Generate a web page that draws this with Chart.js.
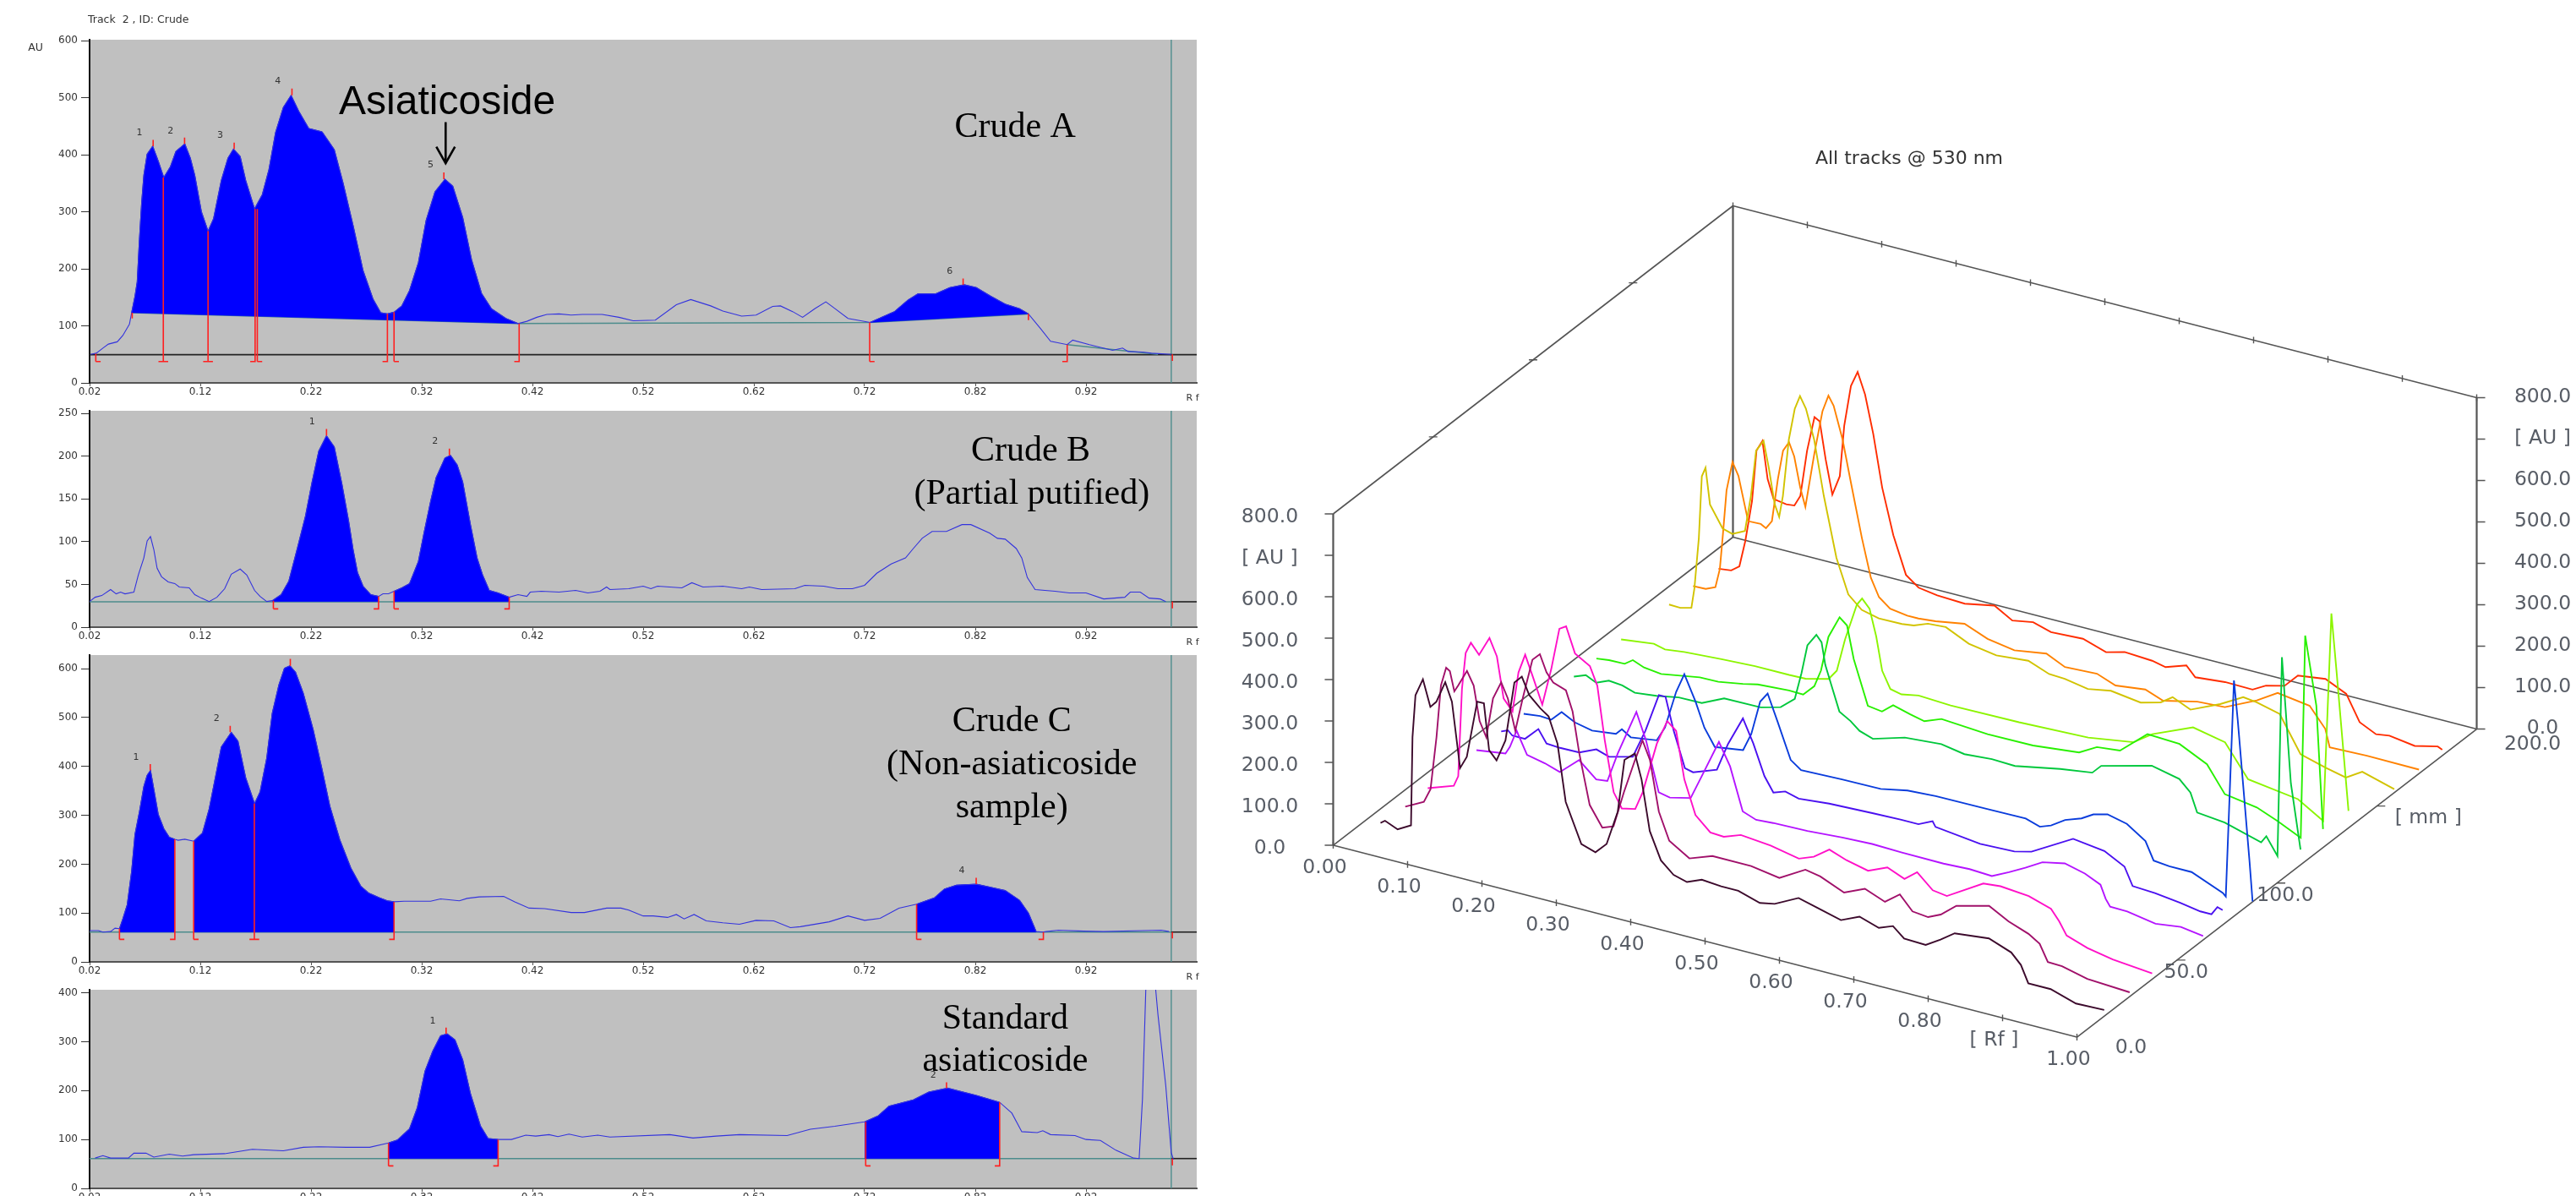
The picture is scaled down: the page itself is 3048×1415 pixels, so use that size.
<!DOCTYPE html>
<html>
<head>
<meta charset="utf-8">
<title>HPTLC densitograms</title>
<script src="https://cdn.jsdelivr.net/npm/chart.js@4/dist/chart.umd.min.js"></script>
<style>
html, body { margin: 0; background: #fff; width: 3048px; height: 1415px; overflow: hidden; }
canvas { position: absolute; }
</style>
</head>
<body>
<canvas id="panelA"></canvas>
<canvas id="panelB"></canvas>
<canvas id="panelC"></canvas>
<canvas id="panelD"></canvas>
<canvas id="tracks3d"></canvas>
<script>
// ---- left column: single track densitograms, [Rf, AU]
const rfTicks = [0.02, 0.12, 0.22, 0.32, 0.42, 0.52, 0.62, 0.72, 0.82, 0.92];
const auTicksA = [0, 100, 200, 300, 400, 500, 600];
const auTicksB = [0, 50, 100, 150, 200, 250];
const auTicksC = [0, 100, 200, 300, 400, 500, 600];
const auTicksD = [0, 100, 200, 300, 400];

const curveA = [[.021,50],[.026,52],[.032,61],[.037,68],[.045,72],[.050,83],[.056,103],[.058,123],[.061,152],[.063,177],[.065,251],[.067,315],[.069,364],[.072,401],[.077,415],[.082,389],[.087,360],[.093,379],[.098,406],[.106,419],[.111,394],[.115,364],[.121,300],[.127,266],[.132,288],[.139,355],[.145,394],[.150,410],[.156,397],[.161,355],[.169,305],[.176,330],[.182,374],[.188,439],[.195,483],[.202,504],[.209,476],[.218,446],[.230,440],[.241,409],[.249,350],[.258,276],[.267,197],[.276,147],[.283,123],[.289,121],[.295,124],[.302,135],[.309,162],[.317,211],[.324,285],[.332,335],[.341,357],[.348,345],[.357,290],[.365,216],[.374,157],[.383,130],[.396,113],[.407,104],[.415,108],[.424,115],[.433,120],[.444,121],[.455,119],[.465,120],[.483,120],[.498,115],[.511,109],[.531,110],[.550,137],[.563,146],[.581,135],[.592,126],[.609,117],[.622,119],[.637,134],[.644,135],[.655,125],[.664,115],[.675,130],[.685,142],[.692,132],[.705,113],[.725,106],[.747,125],[.759,145],[.768,156],[.784,156],[.797,167],[.810,172],[.821,167],[.834,152],[.847,138],[.860,130],[.868,121],[.879,95],[.888,73],[.903,67],[.908,75],[.923,67],[.944,57],[.953,61],[.958,55],[.971,54],[.979,52],[.997,50]];
const curveB = [[.020,30],[.025,35],[.031,37],[.039,44],[.044,39],[.048,41],[.052,39],[.060,41],[.064,61],[.069,81],[.072,101],[.075,106],[.078,91],[.081,69],[.085,59],[.091,53],[.097,51],[.101,47],[.110,46],[.115,38],[.121,34],[.128,30],[.135,35],[.142,45],[.148,62],[.156,68],[.162,61],[.169,43],[.174,36],[.180,30],[.185,31],[.193,38],[.200,54],[.208,94],[.215,130],[.221,170],[.227,206],[.234,224],[.241,211],[.248,167],[.254,124],[.258,91],[.262,64],[.267,48],[.274,38],[.281,36],[.285,39],[.290,39],[.295,42],[.302,46],[.309,51],[.317,77],[.322,110],[.328,147],[.333,175],[.341,198],[.346,201],[.352,190],[.357,170],[.364,120],[.370,81],[.375,61],[.381,43],[.389,40],[.399,35],[.407,38],[.415,36],[.418,41],[.428,42],[.444,41],[.459,43],[.470,40],[.481,42],[.487,47],[.490,44],[.507,45],[.520,48],[.527,45],[.533,48],[.555,46],[.564,52],[.574,47],[.592,48],[.609,45],[.616,47],[.627,44],[.657,45],[.666,49],[.683,48],[.696,45],[.709,45],[.720,49],[.731,63],[.744,74],[.757,81],[.764,92],[.772,104],[.781,112],[.794,112],[.808,120],[.816,120],[.833,110],[.840,104],[.847,103],[.857,92],[.862,81],[.867,58],[.874,44],[.892,42],[.905,40],[.920,40],[.936,33],[.955,35],[.960,41],[.969,41],[.977,34],[.987,33],[.992,30]];
const curveC = [[.020,64],[.028,64],[.032,61],[.039,62],[.043,69],[.047,68],[.050,88],[.054,117],[.058,186],[.061,261],[.065,307],[.069,359],[.072,382],[.075,392],[.078,354],[.082,302],[.087,273],[.092,255],[.097,251],[.100,249],[.106,251],[.114,247],[.122,264],[.128,313],[.134,382],[.139,440],[.148,470],[.154,452],[.161,377],[.169,324],[.174,348],[.180,417],[.185,509],[.191,567],[.196,601],[.201,606],[.206,593],[.213,550],[.222,475],[.230,394],[.237,319],[.246,250],[.256,192],[.265,155],[.272,141],[.282,131],[.289,125],[.295,123],[.304,124],[.328,124],[.337,129],[.354,125],[.361,130],[.372,133],[.394,134],[.404,123],[.417,110],[.431,109],[.455,101],[.467,101],[.487,110],[.500,110],[.507,106],[.520,94],[.529,94],[.542,91],[.550,97],[.557,88],[.566,97],[.577,84],[.592,80],[.607,77],[.622,85],[.638,84],[.653,70],[.662,72],[.688,82],[.705,94],[.720,85],[.734,89],[.751,110],[.767,118],[.783,131],[.792,149],[.803,157],[.821,159],[.833,153],[.847,146],[.860,126],[.868,100],[.875,62],[.881,61],[.884,62],[.895,65],[.918,63],[.936,62],[.971,64],[.988,65],[.995,62]];
const curveD = [[.025,62],[.032,67],[.039,62],[.046,62],[.055,62],[.060,72],[.071,72],[.078,64],[.092,70],[.104,66],[.114,69],[.142,71],[.167,80],[.195,77],[.213,84],[.227,85],[.252,84],[.273,84],[.290,93],[.298,99],[.309,122],[.316,165],[.323,240],[.330,281],[.337,312],[.343,316],[.350,304],[.357,263],[.364,194],[.373,128],[.380,102],[.389,100],[.401,100],[.414,109],[.423,107],[.435,110],[.443,106],[.453,111],[.465,105],[.479,109],[.490,105],[.544,110],[.565,103],[.586,107],[.607,110],[.650,108],[.671,121],[.693,127],[.720,136],[.732,148],[.742,168],[.764,181],[.778,197],[.795,205],[.821,190],[.842,176],[.853,154],[.862,116],[.876,114],[.881,118],[.888,110],[.910,108],[.920,100],[.933,98],[.947,78],[.963,62],[.968,61],[.971,183],[.974,406],[.975,430],[.982,430],[.985,355],[.992,211],[.997,73],[.999,59]];

// filled peak windows: [rf from, rf to, baseline at from, baseline at to]
const fillsA = [[.058,.407,123,104],[.725,.868,106,121]];
const fillsB = [[.185,.281,30,30],[.295,.399,30,30]];
const fillsC = [[.047,.097,61,61],[.114,.295,61,61],[.767,.875,61,61]];
const fillsD = [[.290,.389,61,61],[.720,.842,61,61]];

// peak start/end marks: [rf, top AU, low AU, foot (-1 left, 1 right, 2 both, 0 none)], apex marks have foot 0
const marksA = [[.0256,51,37.5,1],[.0585,123,113,0],[.0866,360,37.5,2],[.127,266,37.5,2],[.1695,305,37.5,-1],[.1715,305,37.5,1],[.289,121,37.5,-1],[.295,124,37.5,1],[.408,104,37.5,-1],[.7246,106,37.5,1],[.868,121,110,0],[.903,67,37.5,-1],[.998,50,38.5,0],[.0774,426,415,0],[.1058,430,419,0],[.1506,421,410,0],[.2028,516,504,0],[.340,369,357,0],[.809,183,172,0]];
const marksB = [[.186,31,21.4,1],[.281,36,21.4,-1],[.295,42,21.4,1],[.399,35,21.4,-1],[.998,30,22,0],[.234,232,224,0],[.345,209,201,0]];
const marksC = [[.047,68,46,1],[.097,251,46,-1],[.114,247,46,1],[.1688,324,46,2],[.295,123,46,-1],[.767,118,46,1],[.8815,61,46,-1],[.998,61,48,0],[.0748,405,392,0],[.147,483,470,0],[.2013,620,606,0],[.8208,172,159,0]];
const marksD = [[.290,93,46,1],[.389,100,46,-1],[.721,136,46,1],[.842,176,46,-1],[.998,61,47,0],[.342,329,316,0],[.794,217,205,0]];

// peak numbers: [text, rf, AU]
const peakNumbersA = [["1",.065,438],["2",.093,442],["3",.138,434],["4",.190,528],["5",.328,382],["6",.797,195]];
const peakNumbersB = [["1",.221,240],["2",.332,217]];
const peakNumbersC = [["1",.062,419],["2",.1347,498],["4",.8078,186]];
const peakNumbersD = [["1",.330,342],["2",.782,231]];

// big captions: [text, rf, AU of baseline, font]
const serif = '42px "Liberation Serif"';
const notesA = [["Asiaticoside",.343,471,'48px "Liberation Sans"'],["Crude A",.856,431,serif]];
const notesB = [["Crude B",.870,195,serif],["(Partial putified)",.871,144,serif]];
const notesC = [["Crude C",.853,472,serif],["(Non-asiaticoside",.853,384,serif],["sample)",.853,296,serif]];
const notesD = [["Standard",.847,327,serif],["asiaticoside",.847,240,serif]];

const arrowShaft = [[.3416,457],[.3416,385]];
const arrowHead = [[.3332,414],[.3416,385],[.350,414]];

// ---- right side: 3D view, one [Rf, AU] list per track
const trackMm = [14, 26, 38, 62, 74, 86, 110, 122, 134, 158, 170, 182];
const trackColors = ["#3c0a2c","#a0106a","#ff10c8","#b414ff","#4a10f0","#0a3cdc","#00c83c","#28f000","#8cf500","#d2c300","#ff8200","#ff2d00"];
const track1 = [[.026,14],[.032,22],[.049,9],[.067,27],[.069,241],[.073,344],[.083,387],[.093,325],[.101,341],[.113,394],[.122,351],[.133,196],[.142,227],[.156,367],[.165,367],[.172,257],[.182,237],[.194,291],[.206,436],[.216,455],[.226,415],[.241,390],[.252,376],[.264,315],[.275,180],[.296,88],[.315,77],[.330,104],[.345,189],[.354,318],[.368,340],[.377,281],[.388,162],[.403,98],[.420,71],[.438,62],[.458,77],[.484,73],[.507,73],[.536,57],[.556,64],[.588,93],[.613,81],[.645,66],[.670,86],[.696,71],[.715,84],[.730,61],[.759,59],[.779,81],[.798,105],[.844,114],[.874,94],[.887,70],[.897,30],[.927,30],[.961,11],[.999,13]];
const track2 = [[.027,9],[.052,32],[.061,67],[.069,196],[.075,324],[.082,370],[.087,364],[.093,318],[.098,334],[.110,375],[.119,344],[.127,262],[.136,227],[.145,325],[.156,369],[.165,334],[.175,261],[.185,344],[.198,443],[.208,461],[.217,421],[.226,401],[.243,390],[.252,343],[.261,246],[.275,128],[.292,81],[.307,91],[.321,180],[.336,265],[.346,317],[.356,274],[.368,155],[.382,91],[.409,61],[.440,81],[.492,81],[.530,70],[.565,106],[.585,99],[.617,75],[.645,97],[.672,78],[.692,105],[.709,72],[.730,68],[.747,82],[.768,113],[.812,133],[.838,108],[.865,90],[.880,73],[.891,34],[.910,33],[.944,18],[1.001,12]];
const track3 = [[.025,8],[.060,30],[.066,56],[.071,269],[.076,358],[.083,386],[.094,362],[.108,409],[.118,369],[.127,272],[.139,246],[.147,344],[.156,391],[.166,344],[.179,281],[.191,372],[.202,475],[.211,485],[.223,425],[.243,404],[.253,361],[.263,234],[.275,114],[.286,80],[.304,87],[.314,132],[.333,258],[.347,319],[.359,301],[.370,189],[.385,110],[.405,77],[.423,75],[.446,90],[.486,83],[.524,69],[.544,83],[.565,110],[.588,95],[.617,83],[.643,103],[.666,86],[.683,110],[.704,76],[.723,71],[.772,124],[.795,128],[.833,122],[.863,105],[.874,80],[.884,50],[.912,33],[.946,21],[.999,12]];
const track4 = [[.026,11],[.065,21],[.071,40],[.080,83],[.094,31],[.118,22],[.138,10],[.164,51],[.187,15],[.202,18],[.216,91],[.241,203],[.254,140],[.271,23],[.286,17],[.314,29],[.329,89],[.352,182],[.367,130],[.384,29],[.402,17],[.425,20],[.471,22],[.518,28],[.558,31],[.598,29],[.654,28],[.689,31],[.719,28],[.742,48],[.764,69],[.787,93],[.817,104],[.844,92],[.865,75],[.872,44],[.878,28],[.901,27],[.939,15],[.973,23],[1.003,15]];
const track5 = [[.027,12],[.036,19],[.042,9],[.059,9],[.077,41],[.088,11],[.106,9],[.132,10],[.155,28],[.172,18],[.204,33],[.221,104],[.239,198],[.248,198],[.259,121],[.274,38],[.285,33],[.317,54],[.332,123],[.352,194],[.366,140],[.381,68],[.393,34],[.409,44],[.427,35],[.468,42],[.526,46],[.565,48],[.588,48],[.607,64],[.611,52],[.671,39],[.717,42],[.740,52],[.796,109],[.838,99],[.865,74],[.876,32],[.906,29],[.940,21],[.967,13],[.982,13],[.990,34],[.997,30]];
const track6 = [[.025,9],[.047,14],[.062,12],[.076,37],[.094,20],[.117,11],[.149,18],[.157,33],[.169,19],[.204,28],[.215,64],[.230,157],[.241,205],[.256,146],[.268,88],[.282,48],[.320,58],[.331,102],[.343,186],[.353,210],[.366,150],[.384,64],[.398,46],[.453,49],[.505,50],[.541,63],[.579,67],[.647,68],[.700,69],[.719,58],[.734,68],[.753,90],[.775,104],[.791,121],[.810,130],[.836,119],[.861,89],[.872,47],[.893,43],[.923,43],[.965,12],[.969,5],[.980,532],[.985,440],[1.001,103],[1.005,10]];
const track7 = [[.028,11],[.044,22],[.058,10],[.075,23],[.093,20],[.110,10],[.139,16],[.169,26],[.200,27],[.230,52],[.279,53],[.306,66],[.325,95],[.334,161],[.342,232],[.354,263],[.361,248],[.366,196],[.374,152],[.385,92],[.400,76],[.412,58],[.430,47],[.473,70],[.522,77],[.553,67],[.590,72],[.621,70],[.682,91],[.725,102],[.737,124],[.805,156],[.842,141],[.857,115],[.866,71],[.903,64],[.952,39],[.959,57],[.974,16],[.980,499],[.992,200],[1.005,46]];
const track8 = [[.026,9],[.043,13],[.064,14],[.075,28],[.090,17],[.113,12],[.165,28],[.190,29],[.223,39],[.243,47],[.285,52],[.304,51],[.319,78],[.328,120],[.338,206],[.353,260],[.363,245],[.372,168],[.391,64],[.410,59],[.425,81],[.448,70],[.467,62],[.490,78],[.552,70],[.613,71],[.675,83],[.699,107],[.730,113],[.767,170],[.810,166],[.847,134],[.871,73],[.914,61],[.942,41],[.973,15],[.979,506],[.994,344],[1.003,50]];
const track9 = [[.027,11],[.071,21],[.086,14],[.112,20],[.162,26],[.207,30],[.253,30],[.275,31],[.306,45],[.317,70],[.328,150],[.344,242],[.351,260],[.361,240],[.370,177],[.378,98],[.389,59],[.404,53],[.427,61],[.470,57],[.562,59],[.655,65],[.716,82],[.741,113],[.796,155],[.839,139],[.870,64],[.937,47],[.971,10],[.982,516],[.989,378],[1.005,50]];
const track10 = [[.027,6],[.042,5],[.057,12],[.061,60],[.067,185],[.071,336],[.076,359],[.082,273],[.099,223],[.112,216],[.129,231],[.137,319],[.144,432],[.154,460],[.161,399],[.169,314],[.175,286],[.180,339],[.188,479],[.196,557],[.203,591],[.211,564],[.222,495],[.235,365],[.252,223],[.268,142],[.286,113],[.309,103],[.340,104],[.356,108],[.375,121],[.399,124],[.430,98],[.467,87],[.510,94],[.538,75],[.559,73],[.590,63],[.621,73],[.661,63],[.688,76],[.704,96],[.728,77],[.768,109],[.799,140],[.817,136],[.848,122],[.876,38],[.910,21],[.937,10],[.959,34],[1.002,12]];
const track11 = [[.027,6],[.044,7],[.057,17],[.063,64],[.067,147],[.072,258],[.080,330],[.088,300],[.101,197],[.118,198],[.125,191],[.133,212],[.141,317],[.148,389],[.156,413],[.163,382],[.171,311],[.178,267],[.190,401],[.201,509],[.209,550],[.216,529],[.228,453],[.239,356],[.254,227],[.266,137],[.277,95],[.292,74],[.315,68],[.330,68],[.353,72],[.392,84],[.423,62],[.459,51],[.502,63],[.527,42],[.570,46],[.595,29],[.635,38],[.659,22],[.705,41],[.742,45],[.785,81],[.813,112],[.856,101],[.877,55],[.883,13],[.933,16],[1.003,15]];
const track12 = [[.029,4],[.046,8],[.057,23],[.065,88],[.074,188],[.080,313],[.088,340],[.095,251],[.103,207],[.120,202],[.131,204],[.139,231],[.148,344],[.158,430],[.165,423],[.173,335],[.182,254],[.192,303],[.198,428],[.207,528],[.216,566],[.226,516],[.237,426],[.249,302],[.264,194],[.281,106],[.298,83],[.323,76],[.360,73],[.400,87],[.424,62],[.452,71],[.476,58],[.519,62],[.550,44],[.575,56],[.612,52],[.630,45],[.658,62],[.670,39],[.710,46],[.747,45],[.765,63],[.790,74],[.808,107],[.845,116],[.873,93],[.891,33],[.913,14],[.931,19],[.965,10],[.996,23],[1.002,18]];
const allTracks = [track1, track2, track3, track4, track5, track6, track7, track8, track9, track10, track11, track12];

const au3dValues = [0, 100, 200, 300, 400, 500, 600, 700, 800];
const au3dLabels = ["0.0","100.0","200.0","300.0","400.0","500.0","600.0","[ AU ]","800.0"];
const rf3dValues = [0, .1, .2, .3, .4, .5, .6, .7, .8, .9, 1];
const rf3dLabels = ["0.00","0.10","0.20","0.30","0.40","0.50","0.60","0.70","0.80","[ Rf ]","1.00"];
const mmValues = [0, 50, 100, 150, 200];
const mmLabels = ["0.0","50.0","100.0","[ mm ]","200.0"];
const mmLabelDx = [64, 11, 10, 61, 66];
const mmLabelDy = [13, 15, 15, 14, 18];

const inkBlue = "#3333dd";
const fillBlue = "#0000ff";
const teal = "#4c8c8c";
const markRed = "#ff2020";

function toPoints(list) {
    return list.map(p => ({ x: p[0], y: p[1] }));
}

function markPoints(marks) {
    const footW = 0.0044;
    const pts = [];
    marks.forEach(([rf, top, low, foot]) => {
        pts.push({ x: rf, y: top }, { x: rf, y: low });
        if (foot === -1 || foot === 2) pts.push({ x: rf - footW, y: low });
        pts.push({ x: null, y: null });
        if (foot === 1 || foot === 2) {
            pts.push({ x: rf, y: low }, { x: rf + footW, y: low }, { x: null, y: null });
        }
    });
    return pts;
}

function lineSet(points, color, width) {
    return { data: points, borderColor: color, borderWidth: width, pointRadius: 0, tension: 0, fill: false };
}

function panelChart(id, cfg) {
    const canvas = document.getElementById(id);
    const pad = 30;
    canvas.width = 1460;
    canvas.height = cfg.bottom - cfg.top + pad * 2;
    canvas.style.left = "0px";
    canvas.style.top = (cfg.top - pad) + "px";

    const datasets = [
        lineSet(markPoints(cfg.marks), markRed, 1.6),
        lineSet(toPoints(cfg.curve), inkBlue, 1.1)
    ];
    if (cfg.arrow) {
        datasets.push(lineSet(toPoints(arrowShaft), "#000", 2.6));
        datasets.push(lineSet(toPoints(arrowHead), "#000", 2.6));
    }
    cfg.fills.forEach(([from, to, base0, base1]) => {
        const part = cfg.curve.filter(p => p[0] >= from && p[0] <= to);
        datasets.push({
            data: toPoints(part), borderColor: fillBlue, borderWidth: 1, pointRadius: 0, tension: 0,
            backgroundColor: fillBlue, fill: "+1"
        });
        datasets.push(lineSet(toPoints([[from, base0], [to, base1]]), fillBlue, 0.5));
    });
    cfg.baselines.forEach(b => datasets.push(lineSet(toPoints(b), teal, 1.6)));
    datasets.push(lineSet(toPoints(cfg.black), "#222", 1.6));
    datasets.push(lineSet(toPoints([[.997, 0], [.997, cfg.max]]), teal, 1.4));

    const panelPlugin = {
        id: "panelDecor",
        beforeDraw(chart) {
            const a = chart.chartArea, c = chart.ctx;
            c.save();
            c.fillStyle = "#c0c0c0";
            c.fillRect(a.left, a.top, a.width, a.height);
            c.restore();
        },
        afterDraw(chart) {
            const c = chart.ctx, sx = chart.scales.x, sy = chart.scales.y;
            c.save();
            c.textAlign = "center";
            c.textBaseline = "middle";
            c.fillStyle = "#333";
            c.font = '11px "DejaVu Sans"';
            cfg.peaks.forEach(([t, rf, au]) => c.fillText(t, sx.getPixelForValue(rf), sy.getPixelForValue(au)));
            c.textBaseline = "alphabetic";
            c.fillStyle = "#000";
            cfg.notes.forEach(([t, rf, au, font]) => {
                c.font = font;
                c.fillText(t, sx.getPixelForValue(rf), sy.getPixelForValue(au));
            });
            c.fillStyle = "#333";
            c.font = '11px "DejaVu Sans"';
            c.fillText("R f", 1411, chart.chartArea.bottom + 21);
            if (cfg.track) {
                c.textAlign = "left";
                c.font = '12.5px "DejaVu Sans"';
                c.fillText("Track  2 , ID: Crude", 104, 10);
                c.textAlign = "center";
                c.fillText("AU", 42, 43);
            }
            c.restore();
        }
    };

    return new Chart(canvas, {
        type: "line",
        data: { datasets },
        plugins: [panelPlugin],
        options: {
            responsive: false,
            animation: false,
            events: [],
            layout: { padding: { top: pad, right: 44, bottom: 0, left: 0 } },
            plugins: { legend: { display: false }, tooltip: { enabled: false } },
            scales: {
                x: {
                    type: "linear", min: 0.02, max: 1.02,
                    afterBuildTicks: s => { s.ticks = rfTicks.map(v => ({ value: v })); },
                    afterFit: s => { s.height = pad; s.paddingLeft = 0; s.paddingRight = 0; s.paddingTop = 0; s.paddingBottom = 0; },
                    border: { color: "#555", width: 2 },
                    grid: { drawOnChartArea: false, drawTicks: true, tickLength: 4, tickColor: "#555" },
                    ticks: {
                        autoSkip: false, maxRotation: 0, padding: 0, color: "#333", font: { family: "DejaVu Sans", size: 12 },
                        callback: v => v.toFixed(2)
                    }
                },
                y: {
                    type: "linear", min: 0, max: cfg.max,
                    afterBuildTicks: s => { s.ticks = cfg.ticks.map(v => ({ value: v })); },
                    afterFit: s => { s.width = 106; s.paddingLeft = 0; s.paddingRight = 0; s.paddingTop = 0; s.paddingBottom = 0; },
                    border: { color: "#111", width: 2 },
                    grid: { drawOnChartArea: false, drawTicks: true, tickLength: 10, tickColor: "#333" },
                    ticks: {
                        padding: 4, color: "#333", font: { family: "DejaVu Sans", size: 12 },
                        callback: v => String(v)
                    }
                }
            }
        }
    });
}

panelChart("panelA", {
    top: 47, bottom: 453, max: 601.5, ticks: auTicksA, curve: curveA, fills: fillsA, marks: marksA,
    peaks: peakNumbersA, notes: notesA, arrow: true, track: true,
    baselines: [[[.058,123],[.407,104],[.725,106],[.868,121]], [[.903,67],[.985,50]]],
    black: [[.02,49.4],[1.02,49.4]]
});
panelChart("panelB", {
    top: 486, bottom: 742, max: 253.2, ticks: auTicksB, curve: curveB, fills: fillsB, marks: marksB,
    peaks: peakNumbersB, notes: notesB,
    baselines: [[[.02,29.7],[.997,29.7]]],
    black: [[.997,29.7],[1.02,29.7]]
});
panelChart("panelC", {
    top: 775, bottom: 1138, max: 628, ticks: auTicksC, curve: curveC, fills: fillsC, marks: marksC,
    peaks: peakNumbersC, notes: notesC,
    baselines: [[[.02,61],[.997,61]]],
    black: [[.997,61],[1.02,61]]
});
panelChart("panelD", {
    top: 1171, bottom: 1406, max: 406.2, ticks: auTicksD, curve: curveD, fills: fillsD, marks: marksD,
    peaks: peakNumbersD, notes: notesD,
    baselines: [[[.02,61],[.997,61]]],
    black: [[.997,61],[1.02,61]]
});

// oblique view: Rf runs right and a little down, mm runs up and right, AU straight up
function project(rf, mm, au) {
    return { x: rf + mm * 0.0026875, y: au - rf * 463.27 + mm * 3.7194 };
}

function edge(a, b) {
    return [project(a[0], a[1], a[2]), project(b[0], b[1], b[2]), { x: null, y: null }];
}

const tickDx = 0.0114;
const boxPts = [
    ...edge([0,0,0], [1,0,0]), ...edge([1,0,0], [1,200,0]), ...edge([0,0,0], [0,200,0]), ...edge([0,200,0], [1,200,0]),
    ...edge([0,0,800], [0,200,800]), ...edge([0,200,800], [1,200,800])
];
const boxVertical = [
    ...edge([0,0,0], [0,0,800]), ...edge([0,200,0], [0,200,800]), ...edge([1,200,0], [1,200,800])
];
const tickPts = [];
au3dValues.forEach(v => {
    const l = project(0, 0, v), r = project(1, 200, v);
    tickPts.push({ x: l.x - tickDx, y: l.y }, l, { x: null, y: null }, r, { x: r.x + tickDx, y: r.y }, { x: null, y: null });
});
rf3dValues.forEach(v => {
    tickPts.push(...edge([v,0,-8], [v,0,8]), ...edge([v,200,792], [v,200,808]));
});
mmValues.slice(1, 4).forEach(v => {
    const a = project(0, v, 800), b = project(1, v, 0);
    tickPts.push({ x: a.x - tickDx / 2, y: a.y }, { x: a.x + tickDx / 2, y: a.y }, { x: null, y: null });
    tickPts.push({ x: b.x, y: b.y }, { x: b.x + tickDx, y: b.y }, { x: null, y: null });
});

const trackSets = allTracks.map((track, i) =>
    lineSet(track.map(p => project(p[0], trackMm[i], p[1])), trackColors[i], 1.9));

const labels3d = {
    id: "labels3d",
    afterDraw(chart) {
        const c = chart.ctx, sx = chart.scales.x, sy = chart.scales.y;
        const put = (text, p, dx, dy) => c.fillText(text, sx.getPixelForValue(p.x) + dx, sy.getPixelForValue(p.y) + dy);
        c.save();
        c.textAlign = "center";
        c.textBaseline = "middle";
        c.fillStyle = "#585d66";
        c.font = '23.5px "DejaVu Sans"';
        au3dValues.forEach((v, i) => {
            put(au3dLabels[i], project(0, 0, v), -75, 4);
            put(au3dLabels[i], project(1, 200, v), 78, -1);
        });
        rf3dValues.forEach((v, i) => put(rf3dLabels[i], project(v, 0, 0), -10, 27));
        mmValues.forEach((v, i) => put(mmLabels[i], project(1, v, 0), mmLabelDx[i], mmLabelDy[i]));
        c.fillStyle = "#333";
        c.font = '22px "DejaVu Sans"';
        put("All tracks @ 530 nm", { x: .7744, y: 1657 }, 0, 0);
        c.restore();
    }
};

const view = document.getElementById("tracks3d");
view.width = 1588;
view.height = 1415;
view.style.left = "1460px";
view.style.top = "0px";

new Chart(view, {
    type: "line",
    data: {
        datasets: [
            ...trackSets,
            lineSet(tickPts, "#555", 1.4),
            lineSet(boxVertical, "#555", 2.2),
            lineSet(boxPts, "#555", 1.6)
        ]
    },
    plugins: [labels3d],
    options: {
        responsive: false,
        animation: false,
        events: [],
        layout: { padding: 0 },
        plugins: { legend: { display: false }, tooltip: { enabled: false } },
        scales: {
            x: { type: "linear", display: false, min: -0.1335, max: 1.671 },
            y: { type: "linear", display: false, min: -846.9, max: 2040.8 }
        }
    }
});
</script>
</body>
</html>
